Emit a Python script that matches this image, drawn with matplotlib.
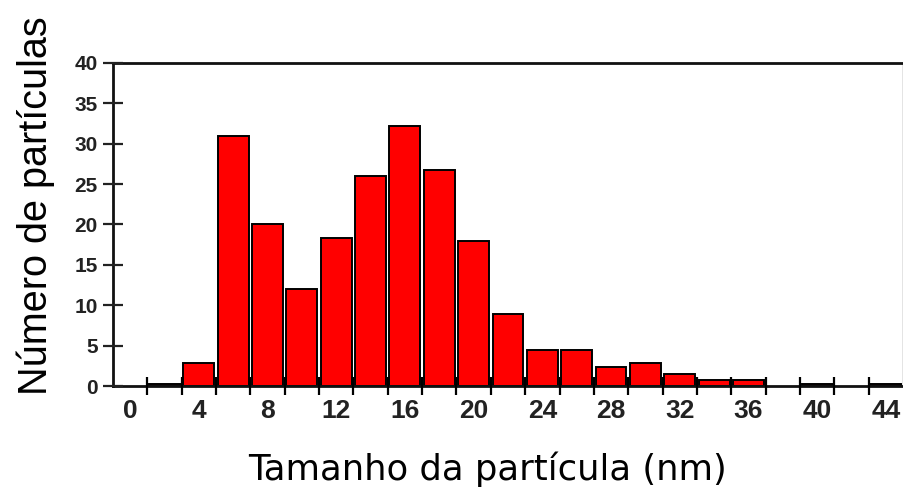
import numpy as np
import matplotlib
matplotlib.use("Agg")
import matplotlib.pyplot as plt

# particle size histogram (bin centres in nm, counts)
sizes = [2, 4, 6, 8, 10, 12, 14, 16, 18, 20, 22, 24, 26, 28, 30, 32, 34, 36, 40, 44]
counts = [0.3, 2.9, 31, 20, 12, 18.3, 26, 32.2, 26.8, 18, 8.9, 4.5, 4.5, 2.3, 2.8, 1.5, 0.8, 0.8, 0.3, 0.3]
xtick_vals = [0, 4, 8, 12, 16, 20, 24, 28, 32, 36, 40, 44]
ytick_vals = [0, 5, 10, 15, 20, 25, 30, 35, 40]

fig = plt.figure(figsize=(9.04, 4.96), dpi=100)
ax = fig.add_axes([113 / 904, 110 / 496, 790 / 904, 323 / 496])

ax.bar(sizes, counts, width=1.8, color="#ff0000", edgecolor="black", linewidth=1.4, zorder=2)
ax.set_axisbelow(False)

ax.set_xlim(-1, 45)
ax.set_ylim(0, 40)

# bin edges get the tick marks, labels sit on the bin centres
edges = np.arange(1, 45, 2)
ax.set_xticks(edges)
ax.set_xticklabels([])
ax.set_xticks(xtick_vals, minor=True)
ax.set_xticklabels([str(v) for v in xtick_vals], minor=True,
                   family="Liberation Sans", fontweight="bold", fontsize=19)
ax.tick_params(axis="x", which="major", direction="inout", length=13, width=1.6, color="black")
ax.tick_params(axis="x", which="minor", length=0, pad=9, colors="#222222")

ax.set_yticks(ytick_vals)
ax.set_yticklabels([str(v) for v in ytick_vals],
                   family="Liberation Sans", fontweight="bold", fontsize=15)
ax.tick_params(axis="y", direction="inout", length=14, width=1.6, pad=4, colors="#222222")

for side in ["left", "bottom", "top"]:
    ax.spines[side].set_linewidth(2)
    ax.spines[side].set_color("#111111")
ax.spines["right"].set_linewidth(1)
ax.spines["right"].set_color("#777777")

fig.text(36 / 904, 1 - 206 / 496, "Número de partículas", rotation=90, ha="center", va="center",
         family="Liberation Sans", fontsize=28.5)
fig.text(488 / 904, 1 - 480 / 496, "Tamanho da partícula (nm)", ha="center", va="baseline",
         family="DejaVu Sans", fontsize=25.5)

fig.savefig("out.png", dpi=100)
